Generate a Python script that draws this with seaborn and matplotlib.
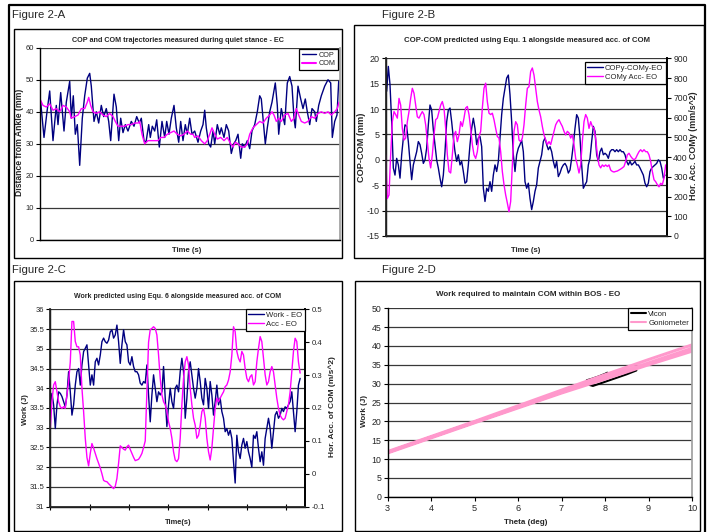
import numpy as np
import pandas as pd
import matplotlib
matplotlib.use("Agg")
import matplotlib.pyplot as plt
from matplotlib.lines import Line2D
from matplotlib.patches import Rectangle
from matplotlib.ticker import MultipleLocator, FuncFormatter
import seaborn as sns

W, H = 722, 532
NAVY = "#000080"
MAGENTA = "#FF00FF"
PINK = "#FF99CC"
SANS = ["Liberation Sans", "DejaVu Sans"]

# --- Figure 2-A: COP / COM trajectories (time in plot pixels, 0-300) ---
cop_t = [0.7, 4, 7, 9.7, 13, 16.3, 18, 20.7, 24, 26.3,
         29.7, 31.3, 33.3, 35.3, 37.3, 39.7, 42.3, 44.7, 47.3, 49.7,
         51.3, 54, 56.3, 58.7, 61.3, 63.7, 66.3, 68.7, 70.7, 74,
         76.3, 78.7, 80.7, 83, 85.3, 88, 91.3, 94, 96.7, 99.3,
         101.3, 104, 106, 108.7, 110.3, 112.3, 114.7, 116.7, 119.3, 122,
         124.7, 126.7, 129, 131.3, 134, 136.3, 138.7, 140.7, 143, 145.3,
         147.3, 149.7, 152,
         154.7, 158, 160.7, 163, 164.7, 166.3, 168.7, 170.7, 173, 174.7,
         177.3, 179.7, 181.3, 184, 186.3, 188.7, 191.3, 193.7, 195.7, 198,
         200.7, 202.3, 204.7, 207.3, 209.7, 212, 214.7, 217.3, 219.7, 221.3,
         223, 225.3, 227.3, 229.7, 232, 235.3, 237.3, 238.7, 241.3, 244.7,
         247.3, 249.7, 252, 254, 255.3, 258, 260.7, 263, 265.3, 267.3,
         269.7, 272, 274.7, 276.3, 278.7, 281.3, 284.7, 288, 290.7, 292.3,
         294.7, 297, 298.7]
cop_mm = [43, 32, 40, 46.5, 31, 42, 36, 46, 34, 43,
          49.5, 38, 45, 33, 36, 23.3, 38, 45, 50.5, 52,
          48, 37, 40, 36.5, 42, 38.5, 41, 37, 31, 45.5,
          41.5, 31, 38, 33.5, 36, 34, 37, 35.5, 38.5, 36.5,
          38, 31, 30.5, 36, 32, 35.5, 34, 37.5, 29, 37,
          32, 37, 33, 38, 42, 35, 30.5, 37, 31, 36,
          33, 38, 33,
          34, 30.5, 34, 36, 40.5, 35, 30, 29, 34, 30,
          36, 33, 35, 32, 36, 34, 27, 30, 31, 33,
          25.5, 30, 29, 31, 28.5, 34, 36, 40, 45, 44,
          38, 30, 35, 40, 43, 49, 42, 33, 41, 36,
          49, 51, 48, 38, 35, 48, 44, 41, 44, 40,
          36, 41, 40, 37, 42, 45, 48, 50, 49, 32,
          37, 39, 49.5]
com_t = [0, 3, 6.3, 9.7, 13, 16.3, 19.7, 23, 26.3, 29.7,
         31.3, 34.7, 38, 41.3, 44.7, 47.3, 48.7, 50.7, 53, 56.3,
         59.7, 63, 66.3, 69.7, 73, 75.3, 78, 81.3, 84.7, 88,
         91.3, 94.7, 98, 99.7, 102, 104.7, 108, 111.3, 114.7, 118,
         120.7, 124, 127.3, 130.7, 134, 137.3, 140.7, 144, 147.3, 150.7,
         153,
         154.7, 158, 161.3, 164.7, 167.3, 169.7, 172, 174.7, 177.3, 180.7,
         184, 187.3, 190.7, 193, 195.3, 198, 201.3, 204.7, 207.3, 209.7,
         213, 216.3, 219.7, 223, 226.3, 229.7, 232, 234, 236.3, 238.7,
         241.3, 244.7, 248, 251.3, 254, 256.3, 258.7, 261.3, 264.7, 268,
         271.3, 274.7, 278, 281.3, 284.7, 288, 291.3, 294.7, 297.3, 299]
com_mm = [44, 42, 41.5, 42.5, 40.5, 41, 40, 42, 41.5, 40,
          38, 38.5, 39, 41, 41, 43, 44.5, 42, 40, 39.5,
          40, 39, 38.5, 39.5, 38.5, 37, 35.5, 35.5, 35.5, 36,
          36, 36.5, 36.5, 37, 33, 30, 31, 31, 31, 31,
          32, 32, 33, 33.5, 34, 33, 32.5, 33, 34, 33,
          33,
          32, 32.5, 31, 30, 31, 33, 35, 33, 31.5, 32,
          31, 32, 30, 29, 30.5, 30, 29, 29, 30, 33,
          35, 36, 37, 36.5, 38, 39, 40, 39, 37, 38,
          37, 39, 39.5, 37, 38, 41, 39, 37, 36.5, 37,
          38.5, 38, 39.5, 40, 39.5, 40, 39, 40, 41, 43]

# --- Figure 2-B: COPy-COMy (mm) and COMy acc (mm/s^2), one value per sample ---
copcom_mm = [13.5, 18.4, 14.8, 7.5, -1.6, -3, 0.3, -1, -3.6, 1,
             4.3, 6.9, 6.6, 3.6, -0.3, -3.9, -1, 0.3, 1.6, 3.6,
             3, 1.3, -0.7, 0, 2.3, 6.9,
             10.8, 9.8, 5.9, 3, 0, -1.6, -3.6, -5.3, -3, 1.6,
             7.5, 9.8, 10.2, 7.5, 4.3, 1.6, -0.3, 1, -1, -0.3,
             -2.3, -4.6, -4.3, -1, 3, 6.2, 8.2, 6.2, 3, 4.3,
             4.6, 2.6, -5.6, -8.2, -5.6, -6.2, -4.3, -6.2, -3, -1,
             -2.3, -0.3, 4.3, 8.9, 12.1, 14.1, 16.1, 16.7, 12.8, 7.5,
             1, -2.3, 1, 2.3, 3, 3.9, 1.6, -4.3, -5.6, -4.6,
             -7.6, -9.8, -8.2, -6.2, -4.9, -1.6, -0.3, 1, 3.6, 4.3,
             3, 2, 2.6, 1.6, -0.3, -1.6, -0.3, -3.3, -2.6, -1.6,
             -1, -0.7, -1.3, -2.6, -2, 0.3, 3, 6.2, 8.9, 8.2,
             4.3, -1, -5.6, -4.9, -4.3, -1, 0.3, 3.6, 6.6, 5.6,
             1, -0.3, 1.6, 2.3, 1, 1.3, 1, 0.3, 1.6, 2,
             2, 1.6, 2, 1.6, 2, 1.6, 1.6, 1, -0.3, -1,
             -0.3, -1, -0.7, -0.3, -1, -1, -1.6, -2.3, -3, -4.6,
             -5.3, -4.6, -2.3, -1.6, -1.3, -1, -0.7, 0, -0.3, -1.6,
             -3.6, -3]
comacc_mms2 = [411, 190, 208, 411, 579, 630, 615, 597, 697, 663,
               545, 486, 496, 579, 630, 697, 748, 723, 663, 604,
               597, 615, 630, 615, 563, 478, 393, 345, 411, 512,
               589, 597, 630, 663, 681, 648, 545, 411, 327, 319,
               411, 512, 530, 478, 512, 579, 555, 597, 648, 656,
               615, 545, 463, 411, 393, 427, 504, 530, 648, 748,
               774, 681, 622, 615, 622, 589, 545, 504, 496, 427,
               327, 260, 208, 167, 123, 175, 360, 530, 579, 563,
               486, 478, 496, 563, 663, 748, 756,
               833, 851, 815, 748, 681, 638, 604, 555, 512, 486,
               463, 478, 463, 496, 530, 563, 579, 589, 571, 555,
               530, 512, 530, 522, 496, 512, 463, 393, 360, 319,
               360, 478, 579, 615, 597, 545, 579, 555, 545, 496,
               411, 360, 345, 360, 352, 360, 352, 360, 334, 327,
               324, 327, 329, 334, 339, 345, 352, 378, 411, 419,
               404, 393, 386, 393, 411, 427, 437, 427, 437, 427,
               427, 411, 378, 327, 285, 275, 260, 249, 267, 260,
               293, 360]

# --- Figure 2-C: predicted work (J) and COM acc (m/s^2), one value per sample ---
work_j = [33.55,
          33.87, 33.58, 32.98, 33.58, 33.91, 33.87, 33.79, 33.66, 33.53, 33.83,
          34.42, 33.91, 33.32, 33.58, 34.08, 34.42, 34.5, 34.08, 34.59, 34.93,
          35.01, 35.1, 34.59, 34.08, 34.34, 34.08, 34.67, 34.76, 34.59, 34.84,
          35.18, 35.27, 35.18, 35.14, 35.22, 35.43, 35.48, 35.27, 35.35, 35.6,
          35.18, 34.63, 35.1, 35.48, 35.18, 35.1, 34.67, 34.59, 34.8, 34.55,
          34.42, 34.42, 34.34, 34.13, 34.08, 34.17, 34.13, 34.59, 33.83, 33.15,
          33.83, 34.34, 34.0, 33.66, 33.91, 33.83, 33.91, 34.55, 33.75, 33.03,
          33.58, 34.0, 33.66, 33.49, 34.0, 34.08,
          33.91, 34.42, 34.76, 34.42, 33.24, 33.75, 34.42, 34.67, 34.34, 34.0,
          33.75, 34.0, 34.5, 34.17, 33.75, 33.58, 34.25, 34.0, 33.49, 34.17,
          33.83, 33.32, 33.66, 34.08, 33.58, 33.75, 33.41, 33.24, 32.9, 32.98,
          32.81, 32.94, 32.73, 32.14, 31.6, 32.81, 32.39, 32.22, 32.56, 32.73,
          32.48, 32.65, 32.39, 32.22, 32.0, 32.81, 32.73, 32.9, 32.48, 32.14,
          32.39, 32.05, 32.73, 32.98, 33.24, 32.98, 32.48, 32.9, 33.32, 33.41,
          33.24, 33.32, 33.49, 33.41, 33.53, 33.49, 33.58, 33.66, 33.91, 33.41,
          32.9, 33.41, 34.08, 34.25]
acc_ms2 = [0.14, 0.219, 0.27, 0.28, 0.249, 0.219, 0.204, 0.199, 0.204, 0.199,
           0.24, 0.28, 0.34, 0.463, 0.463, 0.402, 0.386, 0.386, 0.361, 0.26,
           0.189, 0.108, 0.05, 0.024, 0.062, 0.092, 0.078, 0.062, 0.046, 0.032,
           0.018, 0.0, -0.02, -0.023, -0.024, -0.03, -0.035, -0.04, -0.045, -0.038,
           -0.014, 0.032, 0.085, 0.08, 0.075, 0.072, 0.082, 0.087, 0.074, 0.062,
           0.05, 0.04, 0.042, 0.044, 0.052, 0.062, 0.08, 0.10, 0.25, 0.40,
           0.438, 0.442, 0.447, 0.442, 0.422, 0.361, 0.29, 0.24, 0.219, 0.21,
           0.189, 0.158, 0.138, 0.108, 0.067, 0.042, 0.037,
           0.046, 0.108, 0.21, 0.29, 0.34, 0.356, 0.331, 0.26, 0.21, 0.169,
           0.148, 0.108, 0.117, 0.148, 0.189, 0.199, 0.169, 0.108, 0.067, 0.042,
           0.078, 0.138, 0.199, 0.23, 0.219, 0.23, 0.24, 0.249, 0.265, 0.27,
           0.285, 0.31, 0.361, 0.447, 0.432, 0.372, 0.351, 0.34, 0.372, 0.361,
           0.32, 0.29, 0.28, 0.295, 0.301, 0.27, 0.28, 0.34, 0.381, 0.417,
           0.402, 0.351, 0.301, 0.27, 0.28, 0.31, 0.326, 0.31, 0.27, 0.23,
           0.199, 0.178, 0.169, 0.164, 0.169, 0.189, 0.21, 0.249, 0.31, 0.372,
           0.412, 0.402, 0.34, 0.306]
SAMPLES_PER_TICK_C = 23.6

# --- Figure 2-D: work vs theta ---
vicon_deg = [7.58, 7.70, 7.85, 8.00, 8.05, 8.20, 8.45, 8.72, 8.50, 8.20, 7.95, 7.72, 7.60]
vicon_j = [30.9, 31.3, 31.9, 32.6, 32.9, 32.3, 33.0, 33.5, 32.5, 31.3, 30.3, 29.4, 29.8]
gonio_deg = [3.0, 5.0, 7.0, 8.0, 9.0, 10.0, 10.0, 9.0, 8.0, 7.0, 5.0, 3.0, 3.0, 5.0, 7.5, 10.0]
gonio_j = [11.6, 19.6, 27.5, 31.2, 35.0, 38.6, 40.3, 36.4, 32.4, 28.3, 20.0, 12.0, 11.8, 19.8, 29.7, 39.4]


def px_rect(x0, y0, x1, y1):
    return [x0 / W, 1 - y1 / H, (x1 - x0) / W, (y1 - y0) / H]


def px_to_axes(ax, x, y):
    b = ax.get_position()
    return ((x / W - b.x0) / b.width, (1 - y / H - b.y0) / b.height)


def frame(fig, x0, y0, x1, y1, lw=1.0):
    fig.add_artist(Rectangle((x0 / W, 1 - y1 / H), (x1 - x0) / W, (y1 - y0) / H,
                             transform=fig.transFigure, fill=False, ec="black", lw=lw))


def fmt(v, p):
    return f"{round(v, 3):g}"


def style_axes(ax, ylim, ystep, tsize, right_color="#a0a0a0"):
    ax.set_ylim(*ylim)
    ax.yaxis.set_major_locator(MultipleLocator(ystep))
    ax.yaxis.set_major_formatter(FuncFormatter(fmt))
    ax.grid(axis="y", color="#383838", lw=0.9)
    ax.grid(axis="x", visible=False)
    ax.set_axisbelow(True)
    ax.spines["top"].set_visible(False)
    ax.spines["right"].set_color(right_color)
    for s in ["left", "bottom"]:
        ax.spines[s].set_color("black")
        ax.spines[s].set_linewidth(1.0)
    ax.tick_params(axis="y", direction="out", length=3, width=0.8, color="black",
                   labelsize=tsize, pad=1.5, left=True)
    ax.set_xlabel("")
    ax.set_ylabel("")


def style_twin(ax, ylim, ystep, tsize):
    ax.set_ylim(*ylim)
    ax.yaxis.set_major_locator(MultipleLocator(ystep))
    ax.yaxis.set_major_formatter(FuncFormatter(fmt))
    ax.spines["top"].set_visible(False)
    ax.spines["right"].set_color("black")
    ax.grid(False)
    ax.tick_params(axis="y", direction="out", length=3, width=0.8, color="black",
                   labelsize=tsize, pad=1.5, right=True)
    ax.set_ylabel("")


def label(ax, axis, text, x, y, size, rotation=0):
    kw = dict(fontsize=size, fontweight="bold", family=SANS, rotation=rotation)
    if axis == "x":
        ax.set_xlabel(text, **kw)
        ax.xaxis.label.set_va("center")
        ax.xaxis.set_label_coords(*px_to_axes(ax, x, y))
    else:
        ax.set_ylabel(text, **kw)
        ax.yaxis.label.set_va("center")
        ax.yaxis.label.set_ha("center")
        ax.yaxis.set_label_coords(*px_to_axes(ax, x, y))


def title(fig, text, x, y, size):
    fig.text(x / W, 1 - y / H, text, ha="center", va="center", fontsize=size,
             fontweight="bold", family=SANS)


def legend(ax, handles, labels, x, y, size):
    leg = ax.legend(handles, labels, loc="upper right",
                    bbox_to_anchor=px_to_axes(ax, x, y), borderaxespad=0,
                    frameon=True, fancybox=False, framealpha=1, edgecolor="black",
                    prop={"family": SANS, "size": size}, handlelength=2.0,
                    handletextpad=0.3, borderpad=0.35, labelspacing=0.2)
    leg.get_frame().set_linewidth(0.9)
    return leg


sns.set_theme(style="white")
plt.rcParams["font.family"] = SANS

fig = plt.figure(figsize=(W / 100, H / 100), dpi=100)

# outer border and chart frames
fig.add_artist(Line2D([9 / W, 9 / W, 705 / W, 705 / W], [0, 1 - 5 / H, 1 - 5 / H, 0],
                      transform=fig.transFigure, color="black", lw=1.6))
frame(fig, 14, 29, 342, 258)
frame(fig, 354, 25, 704, 258)
frame(fig, 14, 281, 342, 531)
frame(fig, 355, 281, 700, 531)
for txt, x, y in [("Figure 2-A", 12, 15), ("Figure 2-B", 382, 15),
                  ("Figure 2-C", 12, 270), ("Figure 2-D", 382, 270)]:
    fig.text(x / W, 1 - y / H, txt, ha="left", va="center", fontsize=8.2, family=SANS)

# ---------------- A ----------------
axA = fig.add_axes(px_rect(40, 47.7, 340, 240))
sns.lineplot(x=cop_t, y=cop_mm, ax=axA, color=NAVY, lw=1.0, estimator=None, sort=False)
sns.lineplot(x=com_t, y=com_mm, ax=axA, color=MAGENTA, lw=1.0, estimator=None, sort=False)
axA.set_xlim(0, 300)
style_axes(axA, (0, 60), 10, 5.4)
axA.set_xticks([])
title(fig, "COP and COM trajectories measured during quiet stance - EC", 178, 40, 5.2)
label(axA, "y", "Distance from Ankle (mm)", 20, 142, 6.2, rotation=90)
label(axA, "x", "Time (s)", 187, 250, 5.6)
legend(axA, [Line2D([], [], color=NAVY, lw=1), Line2D([], [], color=MAGENTA, lw=1.5)],
       ["COP", "COM"], 338, 49, 5.2)

# ---------------- B ----------------
axB = fig.add_axes(px_rect(386, 58.3, 667, 236))
dfB1 = pd.DataFrame({"t": np.arange(len(copcom_mm)), "v": copcom_mm})
dfB2 = pd.DataFrame({"t": np.arange(len(comacc_mms2)) - 0.6, "v": comacc_mms2})
sns.lineplot(data=dfB1, x="t", y="v", ax=axB, color=NAVY, lw=1.0, estimator=None, sort=False)
axB.set_xlim(-0.4, 168.2)
style_axes(axB, (-15, 20), 5, 6.5, right_color="black")
axB.set_xticks([])
axB2 = axB.twinx()
sns.lineplot(data=dfB2, x="t", y="v", ax=axB2, color=MAGENTA, lw=1.0, estimator=None, sort=False)
axB2.set_xlim(-0.4, 168.2)
style_twin(axB2, (0, 900), 100, 6.2)
title(fig, "COP-COM predicted using Equ. 1 alongside measured acc. of COM", 527, 40, 5.6)
label(axB, "y", "COP-COM (mm)", 362, 147, 6.6, rotation=90)
label(axB2, "y", "Hor. Acc. COMy (mm/s^2)", 694, 146, 6.4, rotation=90)
label(axB, "x", "Time (s)", 526, 250, 5.6)
legend(axB2, [Line2D([], [], color=NAVY, lw=1), Line2D([], [], color=MAGENTA, lw=1)],
       ["COPy-COMy-EO", "COMy Acc- EO"], 666, 62, 5.5)

# ---------------- C ----------------
axC = fig.add_axes(px_rect(50.3, 309.3, 305, 506.7))
dfC1 = pd.DataFrame({"t": np.arange(len(work_j)) / SAMPLES_PER_TICK_C, "v": work_j})
dfC2 = pd.DataFrame({"t": np.arange(len(acc_ms2)) / SAMPLES_PER_TICK_C, "v": acc_ms2})
sns.lineplot(data=dfC1, x="t", y="v", ax=axC, color=NAVY, lw=1.0, estimator=None, sort=False)
axC.set_xlim(0, 6.48)
style_axes(axC, (31, 36), 0.5, 5.5, right_color="black")
axC.set_xticks(range(7))
axC.set_xticklabels([])
axC.tick_params(axis="x", direction="inout", length=5, width=0.8, color="black", bottom=True)
axC2 = axC.twinx()
sns.lineplot(data=dfC2, x="t", y="v", ax=axC2, color=MAGENTA, lw=1.0, estimator=None, sort=False)
axC2.set_xlim(0, 6.48)
style_twin(axC2, (-0.1, 0.5), 0.1, 5.6)
title(fig, "Work predicted using Equ. 6 alongside measured acc. of COM", 178, 296, 5.0)
label(axC, "y", "Work (J)", 25, 410, 5.6, rotation=90)
label(axC2, "y", "Hor. Acc. of COM (m/s^2)", 332, 407, 6.0, rotation=90)
label(axC, "x", "Time(s)", 178, 522, 5.4)
legend(axC2, [Line2D([], [], color=NAVY, lw=1), Line2D([], [], color=MAGENTA, lw=1)],
       ["Work - EO", "Acc - EO"], 305, 309, 5.6)

# ---------------- D ----------------
axD = fig.add_axes(px_rect(387.7, 308.3, 692, 496.7))
sns.lineplot(x=vicon_deg, y=vicon_j, ax=axD, color="black", lw=1.5, estimator=None, sort=False)
sns.lineplot(x=gonio_deg, y=gonio_j, ax=axD, color=PINK, lw=2.1, estimator=None, sort=False)
axD.set_xlim(3, 10)
style_axes(axD, (0, 50), 5, 6.3)
axD.xaxis.set_major_locator(MultipleLocator(1))
axD.tick_params(axis="x", direction="out", length=3, width=0.8, color="black",
                labelsize=6.6, pad=2, bottom=True)
title(fig, "Work required to maintain COM within BOS - EO", 528, 295, 5.8)
label(axD, "y", "Work (J)", 364, 411, 5.8, rotation=90)
label(axD, "x", "Theta (deg)", 526, 522, 5.8)
legend(axD, [Line2D([], [], color="black", lw=1.5), Line2D([], [], color=PINK, lw=1.5)],
       ["Vicon", "Goniometer"], 692, 308, 5.6)

fig.savefig("out.png", dpi=100)
